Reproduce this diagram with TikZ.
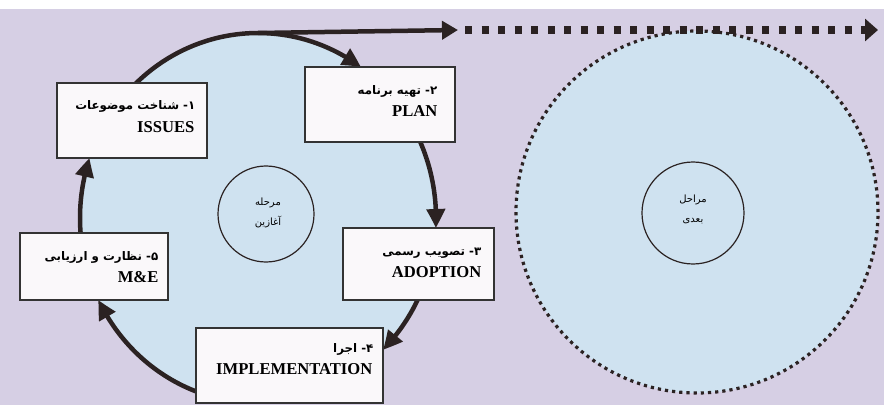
\documentclass[tikz,border=0pt]{standalone}
\usepackage{fontspec}
\setmainfont{Liberation Serif}
\newfontfamily\fa[Script=Arabic]{DejaVu Sans}
\TeXXeTstate=1
\usetikzlibrary{arrows.meta,bending,calc}
\definecolor{bgl}{HTML}{D6CFE4}
\definecolor{cblue}{HTML}{CFE2F0}
\definecolor{ink}{HTML}{2B2222}
\definecolor{boxw}{HTML}{FAF8FA}
\begin{document}
\begin{tikzpicture}[x=1pt,y=1pt,
  cyc/.style={draw=ink, line width=4.5pt, -{Triangle[length=19pt,width=18pt,bend]}},
  box/.style={draw=black!80, line width=1.1pt, fill=boxw, rectangle, inner sep=0pt},
  fat/.style={font=\fa\bfseries\fontsize{11.8}{15}\selectfont, anchor=base east, inner sep=0pt},
  eng/.style={font=\bfseries\fontsize{16.6}{18}\selectfont, anchor=base east, inner sep=0pt},
  smallc/.style={circle, draw=ink, line width=1.2pt, inner sep=0pt},
  smalltxt/.style={font=\fa\fontsize{10}{20}\selectfont, align=center, inner sep=0pt},
  dotline/.style={draw=ink, line width=7.5pt, dash pattern=on 7pt off 9.5pt, -{Triangle[length=13pt,width=22pt]}},
]
\fill[bgl] (0,0) rectangle (884,405);
\fill[white] (0,396) rectangle (884,405);
\useasboundingbox (0,0) rectangle (884,405);
% left phase disc
\coordinate (o) at (258,187);
\fill[cblue] (o) ellipse[x radius=178, y radius=185];
% right dotted disc
\coordinate (p) at (697,193);
\fill[cblue] (p) circle[radius=181];
\draw[ink, line width=3.2pt, dash pattern=on 3.2pt off 4pt] (p) circle[radius=181];
% small circles
\node[smallc, minimum size=96pt] (start) at (266,191) {};
\node[smalltxt] (starttxt) at (268,192) {\beginR مرحله\endR\\\beginR آغازین\endR};
\node[smallc, minimum size=102pt] (next) at (693,192) {};
\node[smalltxt] (nexttxt) at (693,196) {\beginR مراحل\endR\\\beginR بعدی\endR};
% cycle arcs
\draw[cyc] (o) ++(136:178 and 185) arc[start angle=136, end angle=54.7, x radius=178, y radius=185];
\draw[cyc] (o) ++(26:178 and 185) arc[start angle=26, end angle=-3.1, x radius=178, y radius=185];
\draw[cyc] (o) ++(-24:178 and 185) arc[start angle=-24, end angle=-45.4, x radius=178, y radius=185];
\draw[cyc] (o) ++(-108:178 and 185) arc[start angle=-108, end angle=-153.7, x radius=178, y radius=185];
\draw[cyc] (o) ++(-173:178 and 185) arc[start angle=-173, end angle=-198.9, x radius=178, y radius=185];
% top arrows
\coordinate (ctop) at ($(o)+(90:178 and 185)$);
\coordinate (mid) at (458,375);
\coordinate (midb) at (465,375);
\coordinate (far) at (878,375);
\draw[draw=ink, line width=4.5pt, -{Triangle[length=16pt,width=18pt]}] (ctop) -- (mid);
\draw[dotline] (midb) -- (far);
% boxes
\node[box, minimum width=150pt, minimum height=75pt] (issues) at (132,284.5) {};
\node[box, minimum width=150pt, minimum height=75pt] (plan) at (380,300.5) {};
\node[box, minimum width=151pt, minimum height=72pt] (adopt) at (418.5,141) {};
\node[box, minimum width=148pt, minimum height=67pt] (me) at (94,138.5) {};
\node[box, minimum width=187pt, minimum height=75pt] (impl) at (289.5,39.5) {};
% box texts
\node[fat] (issuesfa) at ([xshift=-12pt,yshift=-27pt]issues.north east) {\beginR ۱- شناخت موضوعات\endR};
\node[eng] (issuesen) at ([xshift=-13pt,yshift=-50pt]issues.north east) {ISSUES};
\node[fat] (planfa) at ([xshift=-18pt,yshift=-28pt]plan.north east) {\beginR ۲- تهیه برنامه\endR};
\node[eng] (planen) at ([xshift=-18pt,yshift=-50pt]plan.north east) {PLAN};
\node[fat] (adoptfa) at ([xshift=-13pt,yshift=-28pt]adopt.north east) {\beginR ۳- تصویب رسمی\endR};
\node[eng] (adopten) at ([xshift=-13pt,yshift=-50pt]adopt.north east) {ADOPTION};
\node[fat] (mefa) at ([xshift=-10pt,yshift=-28pt]me.north east) {\beginR ۵- نظارت و ارزیابی\endR};
\node[eng] (meen) at ([xshift=-10pt,yshift=-50pt]me.north east) {M\&E};
\node[fat] (implfa) at ([xshift=-10pt,yshift=-25pt]impl.north east) {\beginR ۴- اجرا\endR};
\node[eng] (implen) at ([xshift=-11pt,yshift=-47pt]impl.north east) {IMPLEMENTATION};
\end{tikzpicture}
\end{document}
